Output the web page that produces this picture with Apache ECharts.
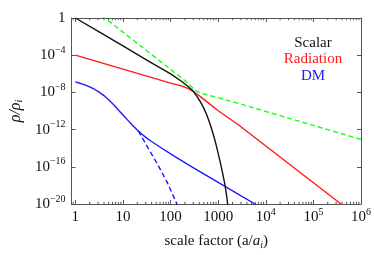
<!DOCTYPE html>
<html><head><meta charset="utf-8">
<script src="https://cdn.jsdelivr.net/npm/echarts@6/dist/echarts.min.js"></script>
<style>html,body{margin:0;padding:0;background:#fff}#c{width:374px;height:255px}</style>
</head><body><div id="c"></div>
<script>
// ---- data (scale factor a/a_i, density rho/rho_i) ----
const scalarA   = [1, 3.16, 10, 31.6, 100, 169, 224, 290, 354.8, 426.6, 501.2, 579.4, 676.1, 787, 891.3, 1000, 1122, 1259, 1380, 1479, 1549, 1603];
const scalarRho = [1, 3.16e-2, 1e-3, 3.0e-5, 1e-6, 1.58e-7, 5.25e-8, 1.58e-8, 3.98e-9, 8.91e-10, 1.91e-10, 3.55e-11, 3.98e-12, 3.16e-13, 3.16e-14, 2.82e-15, 2.24e-16, 1.41e-17, 1.26e-18, 1.41e-19, 2.51e-20, 3.98e-21];

const radA   = [1, 10, 100, 169, 224, 292, 398, 631, 1000, 2692, 13490, 380000, 501000];
const radRho = [1e-4, 3.16e-6, 1e-7, 5.0e-8, 2.82e-8, 1.41e-8, 4.47e-9, 7.08e-10, 1.07e-10, 3.16e-12, 5.37e-15, 1e-20, 3.4e-21];

const dmA   = [1, 1.259, 1.585, 1.995, 2.512, 3.162, 3.981, 5.012, 6.31, 7.943, 10, 12.59, 15.85, 19.95, 25.12, 31.62, 39.81, 63.1, 125.9, 316.2, 1000, 6310];
const dmRho = [1.35e-7, 9.55e-8, 6.31e-8, 3.89e-8, 2.19e-8, 1.07e-8, 4.57e-9, 1.62e-9, 4.9e-10, 1.38e-10, 3.8e-11, 1.05e-11, 2.95e-12, 9.12e-13, 3.16e-13, 1.2e-13, 5.25e-14, 1.12e-14, 1.15e-15, 6.61e-17, 2.09e-18, 8.3e-21];

const dmDashA   = [21.1, 26.6, 33.5, 53.2, 84.5, 134, 141];
const dmDashRho = [7.08e-13, 8.9e-14, 1.07e-14, 1.9e-16, 2.24e-18, 1.17e-20, 6.3e-21];

const greenA   = [3.55, 10, 31.6, 100, 169, 224, 282, 339, 417, 562, 1000, 2692, 10000, 100000, 1000000];
const greenRho = [1.9, 3.0e-2, 3.0e-4, 3.0e-6, 3.7e-7, 1.12e-7, 3.55e-8, 1.58e-8, 8.9e-9, 5.6e-9, 2.7e-9, 6.5e-10, 8.9e-11, 2.8e-12, 8.9e-14];

const legendNames = ['Scalar', 'Radiation', 'DM'];
const xMin = 0.831, xMax = 1e6, yMin = 1e-20, yMax = 1;
const minorMultipliers = [2, 3, 4, 5, 6, 7, 8, 9];
const minorDecades = [0.1, 1, 10, 100, 1000, 10000, 100000];

function zip(xs, ys) { return xs.map((x, i) => [x, ys[i]]); }
const minorTicks = [];
minorDecades.forEach(d => minorMultipliers.forEach(m => {
  const v = d * m; if (v > xMin && v < xMax) minorTicks.push([v, yMin]);
}));

const SERIF = '"Liberation Serif", "DejaVu Serif", serif';
const AX = '#555';
const richNum = {
  sup: { fontSize: 10, fontFamily: SERIF, color: '#111', verticalAlign: 'top', lineHeight: 20 }
};
function powLabel(v) {
  if (!(v > 0)) return '';
  const l = Math.log10(v), e = Math.round(l);
  if (Math.abs(l - e) > 1e-6) return '';
  if (e >= 0 && e <= 3) return String(Math.round(Math.pow(10, e)));
  return '10{sup|' + (e < 0 ? '\u2212' + (-e) : e) + '}';
}
function yLabel(v) {
  if (!(v > 0)) return '';
  const l = Math.log10(v), e = Math.round(l);
  if (Math.abs(l - e) > 1e-6) return '';
  if (e === 0) return '1';
  return '10{sup|' + (e < 0 ? '\u2212' + (-e) : e) + '}';
}

const baseX = {
  type: 'log', logBase: 10, min: xMin, max: xMax,
  axisLine: { show: true, lineStyle: { color: AX, width: 1 } },
  axisTick: { show: true, inside: true, length: 4, lineStyle: { color: AX } },
  splitLine: { show: false }
};
const baseY = {
  type: 'log', logBase: 10000, min: yMin, max: yMax,
  axisLine: { show: true, lineStyle: { color: AX, width: 1 } },
  axisTick: { show: true, inside: true, length: 4, lineStyle: { color: AX } },
  splitLine: { show: false }
};

const chart = echarts.init(document.getElementById('c'), null, { renderer: 'canvas' });
const lineSeries = (name, xs, ys, color, dashed) => ({
  name, type: 'line', data: zip(xs, ys), showSymbol: false, symbol: 'none',
  lineStyle: { color, width: 1.4, type: dashed ? [5, 3] : 'solid', join: 'round' },
  itemStyle: { color }, silent: true, animation: false, clip: true
});

chart.setOption({
  animation: false,
  grid: { left: 60, right: 11, top: 18, bottom: 46 },
  xAxis: [
    Object.assign({}, baseX, {
      position: 'bottom',
      axisLabel: { show: true, margin: 3, formatter: powLabel, fontSize: 15, fontFamily: SERIF, color: '#111', lineHeight: 20, rich: richNum },
      name: 'scale factor (a/{it|a}{sub|i})', nameLocation: 'middle', nameGap: 28,
      nameTextStyle: { fontSize: 15, fontFamily: SERIF, color: '#111', lineHeight: 18,
        rich: { it: { fontSize: 15, fontStyle: 'italic', fontFamily: SERIF, color: '#111' },
                sub: { fontSize: 10, fontStyle: 'italic', fontFamily: SERIF, color: '#111', verticalAlign: 'bottom', lineHeight: 14 } } }
    }),
    Object.assign({}, baseX, { position: 'top', axisLabel: { show: false } })
  ],
  yAxis: [
    Object.assign({}, baseY, {
      position: 'left',
      axisLabel: { show: true, margin: 6, formatter: yLabel, fontSize: 15, fontFamily: SERIF, color: '#111', lineHeight: 20, rich: richNum },
      name: '{it|\u03c1/\u03c1}{sub|i}', nameLocation: 'middle', nameGap: 40, nameRotate: 90,
      nameTextStyle: { fontSize: 15, fontFamily: SERIF, color: '#111',
        rich: { it: { fontSize: 16, fontStyle: 'italic', fontFamily: SERIF, color: '#111' },
                sub: { fontSize: 10, fontStyle: 'italic', fontFamily: SERIF, color: '#111', verticalAlign: 'bottom', lineHeight: 12 } } }
    }),
    Object.assign({}, baseY, { position: 'right', axisLabel: { show: false } })
  ],
  series: [
    lineSeries('green', greenA, greenRho, '#1aff1a', true),
    lineSeries('Radiation', radA, radRho, '#ff1a1a', false),
    lineSeries('DM', dmA, dmRho, '#1a1aff', false),
    lineSeries('DM dashed', dmDashA, dmDashRho, '#1a1aff', true),
    lineSeries('Scalar', scalarA, scalarRho, '#111111', false),
    {
      type: 'custom', name: 'minorTicks', data: minorTicks, silent: true, clip: false,
      encode: { x: 0, y: 1 },
      renderItem: function (params, api) {
        const v = api.value(0);
        const b = api.coord([v, yMin]);
        const t = api.coord([v, yMax]);
        return { type: 'group', children: [
          { type: 'line', shape: { x1: b[0], y1: b[1], x2: b[0], y2: b[1] - 2.2 }, style: { stroke: AX, lineWidth: 1 } },
          { type: 'line', shape: { x1: t[0], y1: t[1], x2: t[0], y2: t[1] + 2.2 }, style: { stroke: AX, lineWidth: 1 } }
        ] };
      }
    }
  ],
  graphic: [
    { type: 'text', x: 313, y: 43, style: { text: legendNames[0], fill: '#111', fontSize: 15, fontFamily: SERIF, align: 'center', verticalAlign: 'middle' } },
    { type: 'text', x: 313, y: 59.5, style: { text: legendNames[1], fill: '#ff1a1a', fontSize: 15, fontFamily: SERIF, align: 'center', verticalAlign: 'middle' } },
    { type: 'text', x: 313, y: 76, style: { text: legendNames[2], fill: '#1a1aff', fontSize: 15, fontFamily: SERIF, align: 'center', verticalAlign: 'middle' } }
  ]
});
</script>
</body></html>
